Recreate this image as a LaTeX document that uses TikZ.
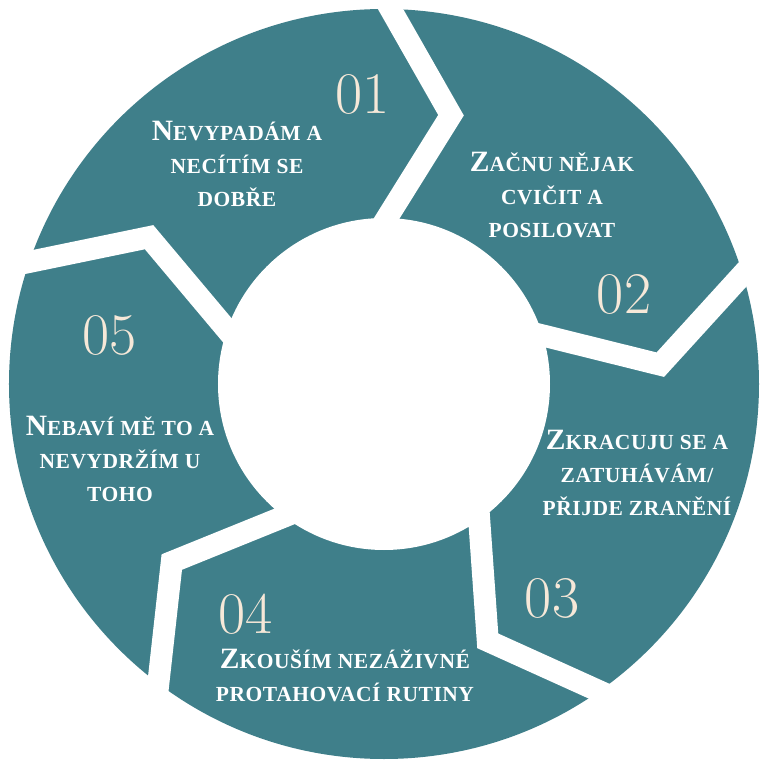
\documentclass[tikz,border=0pt]{standalone}
\usepackage{fontspec}
\newfontfamily\capsfont{Liberation Serif}[LetterSpace=2.5]
\usetikzlibrary{calc}
\definecolor{ringteal}{HTML}{3F7F8A}
\definecolor{numcream}{HTML}{F6E8D8}
\newcommand{\bigletter}[1]{{\fontsize{29.5}{33}\selectfont #1}}
\tikzset{
  steptext/.style={text=white, align=center, inner sep=0pt, font=\capsfont\bfseries\fontsize{21.5}{33}\selectfont},
  stepnum/.style={text=numcream, inner sep=0pt, font=\fontsize{59}{59}\selectfont}
}

\begin{document}
\begin{tikzpicture}[x=1pt,y=1pt]
	\def\Rout{375};
	\def\Rin{166};
	\def\Rbend{277};
	\def\gap{22};

	\useasboundingbox (-384,-384) rectangle (384,384);
	\fill[white] (-384,-384) rectangle (384,384);

	\begin{scope}
		\fill[ringteal] (0,0) circle (\Rout);
		\foreach \a in {89,17,-55,-127,161}{
			\coordinate (in) at (\a:\Rin);
			\coordinate (bend) at (\a-13:\Rbend);
			\coordinate (out) at (\a:\Rout);
			\draw[white, line width=\gap, line join=miter] ($(bend)!1.3!(in)$) -- (bend) -- ($(bend)!1.3!(out)$);
		}
		\fill[white] (0,0) circle (\Rin);
	\end{scope}

	\begin{scope}
		\node[stepnum] (num1) at (-21,290) {01};
		\node[stepnum] (num2) at (240,90) {02};
		\node[stepnum] (num3) at (168,-214) {03};
		\node[stepnum] (num4) at (-138,-230) {04};
		\node[stepnum] (num5) at (-274,49) {05};

		\node[steptext] (text1) at (-147,220) {{\bigletter{N}}EVYPADÁM A\\NECÍTÍM SE\\DOBŘE};
		\node[steptext] (text2) at (168,189) {{\bigletter{Z}}AČNU NĚJAK\\CVIČIT A\\POSILOVAT};
		\node[steptext] (text3) at (253,-89) {{\bigletter{Z}}KRACUJU SE A\\ZATUHÁVÁM/\\PŘIJDE ZRANĚNÍ};
		\node[steptext] (text4) at (-39,-292) {{\bigletter{Z}}KOUŠÍM NEZÁŽIVNÉ\\PROTAHOVACÍ RUTINY};
		\node[steptext] (text5) at (-264,-75) {{\bigletter{N}}EBAVÍ MĚ TO A\\NEVYDRŽÍM U\\TOHO};
	\end{scope}
\end{tikzpicture}
\end{document}
